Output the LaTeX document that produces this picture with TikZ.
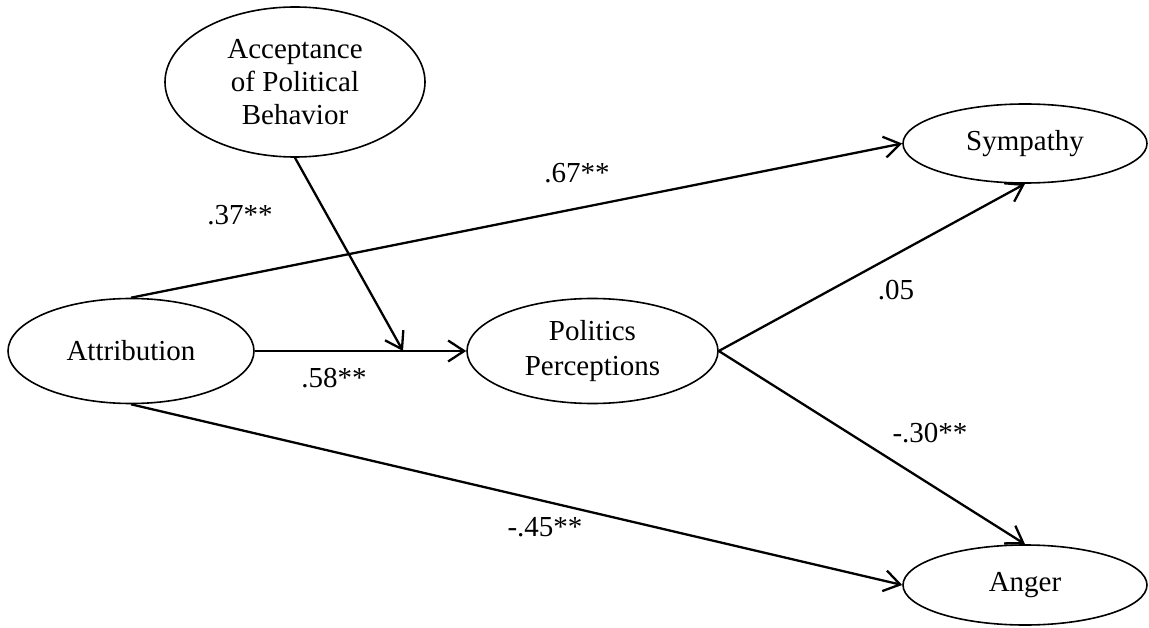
\documentclass[tikz,border=0pt]{standalone}
\usepackage{fontspec}
\setmainfont{Liberation Serif}
\usetikzlibrary{shapes.geometric,arrows.meta}
\begin{document}
\begin{tikzpicture}[x=1pt,y=-1pt,
  latent/.style={draw,ellipse,line width=1.6pt,inner sep=0pt,align=center,
    font=\fontsize{29}{33}\selectfont},
  path/.style={line width=2.3pt,-{Straight Barb[length=16pt,width=21pt,line width=2.3pt]}},
  coef/.style={font=\fontsize{29}{33}\selectfont,inner sep=0pt}]
\useasboundingbox (0,0) rectangle (1149,628);
% latent variables
\node[latent,minimum width=260pt,minimum height=150pt] (acc) at (295,82)
  {Acceptance\\of Political\\Behavior};
\node[latent,minimum width=246pt,minimum height=105pt] (att) at (131,351) {Attribution};
\node[latent,minimum width=251pt,minimum height=105pt,
  font=\fontsize{29}{35}\selectfont] (pol) at (592.5,351) {Politics\\Perceptions};
\node[latent,minimum width=244pt,minimum height=79pt] (sym) at (1025,143.5) {Sympathy};
\node[latent,minimum width=244pt,minimum height=80pt] (ang) at (1025,585) {Anger};
% moderation target on the Attribution -> Politics path
\coordinate (mod) at (403,351);
% structural paths
\draw[path] (att.east) -- (pol.west);
\draw[path] (acc.south) -- (mod);
\draw[path] (att.north) -- (sym.west);
\draw[path] (att.south) -- (ang.west);
\draw[path] (pol.east) -- (sym.south);
\draw[path] (pol.east) -- (ang.north);
% path coefficients
\node[coef] (c37) at (240,215) {.37**};
\node[coef] (c67) at (577,173) {.67**};
\node[coef] (c58) at (334,378) {.58**};
\node[coef] (c05) at (896,290) {.05};
\node[coef] (c30) at (930,433) {-.30**};
\node[coef] (c45) at (545,527) {-.45**};
\end{tikzpicture}
\end{document}
